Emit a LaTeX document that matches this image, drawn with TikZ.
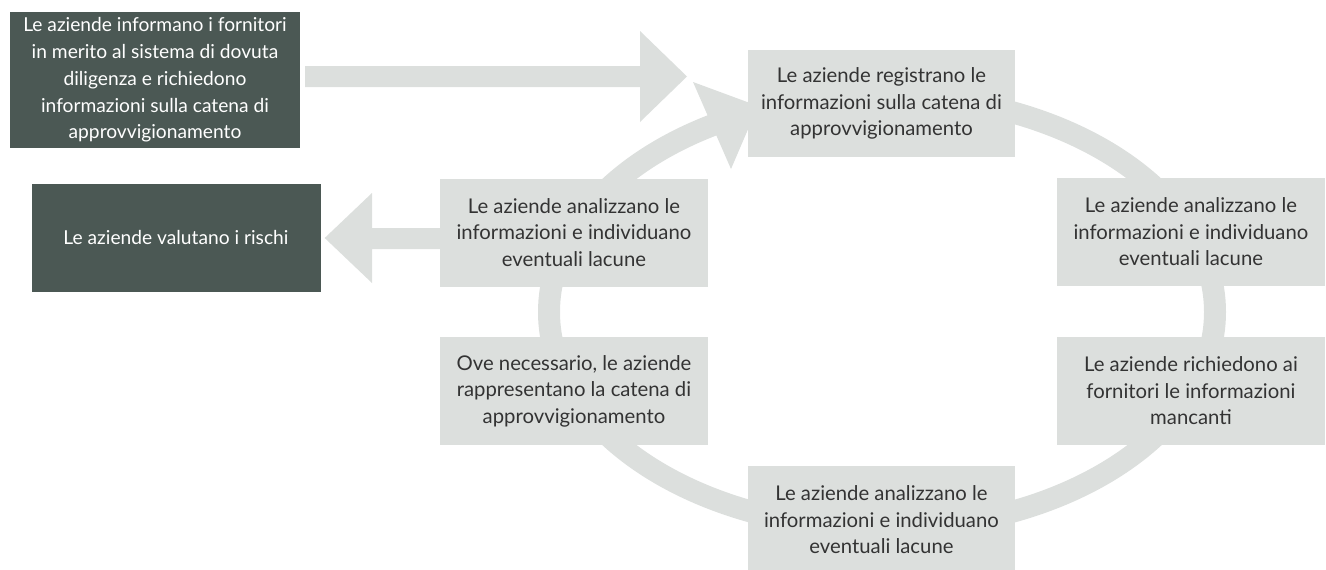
\documentclass[tikz,border=0pt]{standalone}
\usepackage{fontspec}
\setmainfont{Lato}
\definecolor{lightbox}{HTML}{DCDFDD}
\definecolor{darkbox}{HTML}{4B5854}
\definecolor{txt}{HTML}{333333}
\tikzset{
  lbox/.style={fill=lightbox, draw=none, align=center, text=txt, inner sep=0pt,
    minimum width=268pt, minimum height=108pt, font=\fontsize{20.3}{26.5}\selectfont},
  dbox/.style={fill=darkbox, draw=none, align=center, text=white, inner sep=0pt,
    font=\fontsize{19.2}{26.8}\selectfont},
  bigarrow/.style={fill=lightbox, draw=none},
  ring/.style={draw=lightbox, line width=22pt}
}
\begin{document}
\begin{tikzpicture}[x=1pt,y=-1pt]
\useasboundingbox (0,0) rectangle (1326,570);
% ring
\draw[ring] (882,312) ellipse [x radius=333, y radius=217];
% ring arrow head
\coordinate (rh1) at (693,82);
\coordinate (rh2) at (731,169);
\coordinate (rhtip) at (758,106);
\fill[lightbox] (rh1) -- (rhtip) -- (rh2) -- cycle;
% nodes
\node[dbox, minimum width=290pt, minimum height=136pt] (d1) at (155,80)
  {Le aziende informano i fornitori\\in merito al sistema di dovuta\\diligenza e richiedono\\informazioni sulla catena di\\approvvigionamento};
\node[dbox, minimum width=289pt, minimum height=108pt] (d2) at (176,237.5)
  {Le aziende valutano i rischi};
\node[lbox, minimum width=267pt, minimum height=107pt] (top) at (881.5,103.5)
  {Le aziende registrano le\\informazioni sulla catena di\\approvvigionamento};
\node[lbox] (lm) at (574,232.5)
  {Le aziende analizzano le\\informazioni e individuano\\eventuali lacune};
\node[lbox] (rm) at (1191,232)
  {Le aziende analizzano le\\informazioni e individuano\\eventuali lacune};
\node[lbox] (lb) at (574,391)
  {Ove necessario, le aziende\\rappresentano la catena di\\approvvigionamento};
\node[lbox] (rb) at (1191,391)
  {Le aziende richiedono ai\\fornitori le informazioni\\mancanti};
\node[lbox, minimum width=267pt] (bot) at (881.5,520)
  {Le aziende analizzano le\\informazioni e individuano\\eventuali lacune};
% right arrow from d1 towards the cycle
\fill[bigarrow] ([xshift=5pt]d1.east |- 0,66) -- (640,66) -- (640,31) -- (687,76.5)
  -- (640,122) -- (640,87) -- ([xshift=5pt]d1.east |- 0,87) -- cycle;
% left arrow from lm to d2
\fill[bigarrow] (lm.west |- 0,228) -- (372,228) -- (372,193) -- ([xshift=4pt]d2.east |- 0,238)
  -- (372,283) -- (372,249) -- (lm.west |- 0,249) -- cycle;
\end{tikzpicture}
\end{document}
